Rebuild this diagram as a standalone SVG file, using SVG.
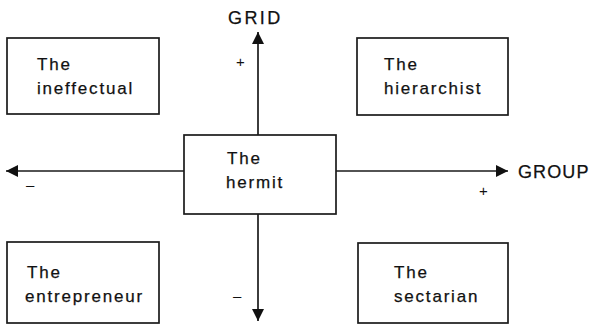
<svg xmlns="http://www.w3.org/2000/svg" width="592" height="325" viewBox="0 0 592 325">
  <defs>
    <marker id="head" viewBox="0 0 12 12" refX="12" refY="6" markerWidth="12" markerHeight="12" markerUnits="userSpaceOnUse" orient="auto">
      <path d="M0,0 L12,6 L0,12 Z" fill="#111"/>
    </marker>
  </defs>
  <style>
    .box { fill: #fff; stroke: #1a1a1a; stroke-width: 1.7; }
    .axis { fill: none; stroke: #1a1a1a; stroke-width: 1.7; marker-end: url(#head); }
    .lbl { font-family: "Liberation Sans", Arial, sans-serif; font-size: 17px; letter-spacing: 1.8px; fill: #111; stroke: #111; stroke-width: 0.25; }
    .ax { font-family: "Liberation Sans", Arial, sans-serif; font-size: 18px; letter-spacing: 2.4px; fill: #111; stroke: #111; stroke-width: 0.25; }
    .sign { font-family: "Liberation Sans", Arial, sans-serif; font-size: 15px; fill: #111; }
  </style>
  <rect width="592" height="325" fill="#fff"/>

  <!-- axes -->
  <g id="connectors">
    <line class="axis" x1="258" y1="135" x2="258" y2="32"/>
    <line class="axis" x1="258" y1="214" x2="258" y2="321"/>
    <line class="axis" x1="184" y1="171" x2="6" y2="171"/>
    <line class="axis" x1="336" y1="171" x2="508" y2="171"/>
  </g>

  <!-- axis labels and signs -->
  <g id="axis-labels">
    <text class="ax" x="228" y="24">GRID</text>
    <text class="ax" x="518" y="178" style="letter-spacing:1.1px">GROUP</text>
    <text class="sign" x="236" y="67">+</text>
    <text class="sign" x="479" y="196">+</text>
    <text class="sign" x="26" y="190">–</text>
    <text class="sign" x="233" y="301">–</text>
  </g>

  <g id="ineffectual">
    <rect class="box" x="7" y="38" width="152" height="76"/>
    <text class="lbl" x="37" y="70">The</text>
    <text class="lbl" x="37" y="94">ineffectual</text>
  </g>

  <g id="hierarchist">
    <rect class="box" x="357" y="38" width="151" height="77"/>
    <text class="lbl" x="384" y="70">The</text>
    <text class="lbl" x="384" y="94">hierarchist</text>
  </g>

  <g id="hermit">
    <rect class="box" x="184" y="135" width="152" height="79"/>
    <text class="lbl" x="227" y="164">The</text>
    <text class="lbl" x="226" y="188">hermit</text>
  </g>

  <g id="entrepreneur">
    <rect class="box" x="7" y="242" width="152" height="81"/>
    <text class="lbl" x="27" y="278">The</text>
    <text class="lbl" x="25" y="302">entrepreneur</text>
  </g>

  <g id="sectarian">
    <rect class="box" x="358" y="243" width="150" height="80"/>
    <text class="lbl" x="394" y="278">The</text>
    <text class="lbl" x="394" y="302">sectarian</text>
  </g>
</svg>
